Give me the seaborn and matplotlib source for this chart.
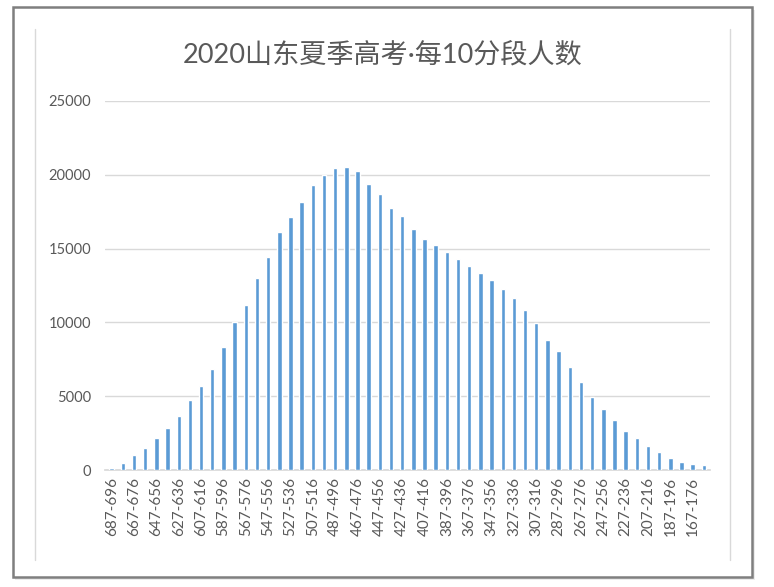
import matplotlib
matplotlib.use("Agg")
import matplotlib.pyplot as plt
import seaborn as sns
import pandas as pd
from matplotlib.patches import Rectangle
from matplotlib.lines import Line2D

# ---- data ----
lower_bounds = list(range(687, 156, -10))  # 687 ... 157
categories = [f"{lo}-{lo + 9}" for lo in lower_bounds]
counts = [110, 450, 1010, 1510, 2185, 2860, 3650, 4730, 5700, 6870,
          8330, 10000, 11170, 13040, 14410, 16150, 17140, 18180, 19280, 19980,
          20450, 20540, 20270, 19390, 18720, 17730, 17230, 16350, 15680, 15270,
          14770, 14300, 13810, 13330, 12840, 12250, 11670, 10860, 9930, 8830,
          8060, 6960, 5990, 4930, 4140, 3360, 2660, 2185, 1600, 1220,
          810, 540, 430, 340]
y_ticks = [0, 5000, 10000, 15000, 20000, 25000]
title = "2020山东夏季高考·每10分段人数"

df = pd.DataFrame({"range": categories, "count": counts})

sns.set_theme(style="white")
plt.rcParams["font.family"] = ["Lato", "Noto Sans CJK SC", "DejaVu Sans"]

W, H = 774, 587
fig = plt.figure(figsize=(W / 100, H / 100), dpi=100, facecolor="white")

def px(x0, y0, x1, y1):
    return [x0 / W, 1 - y1 / H, (x1 - x0) / W, (y1 - y0) / H]

# frame with a soft shadow
fig.patches.append(Rectangle((15 / W, 1 - 580 / H), (755 - 15) / W, (580 - 10) / H,
                             transform=fig.transFigure, facecolor="#ececec",
                             edgecolor="none", zorder=-11))
fig.patches.append(Rectangle((13 / W, 1 - 577 / H), (752 - 13) / W, (577 - 7) / H,
                             transform=fig.transFigure, facecolor="white",
                             edgecolor="#7f7f7f", linewidth=1.8, zorder=-10))
for xx in (35, 730):
    fig.lines.append(Line2D([xx / W, xx / W], [1 - 29 / H, 1 - 560 / H],
                            transform=fig.transFigure, color="#d9d9d9",
                            linewidth=1, zorder=-5))

ax = fig.add_axes(px(105, 101, 710, 470))
ax.set_facecolor("none")
sns.barplot(data=df, x="range", y="count", color="#5B9BD5", width=0.4,
            saturation=1, ax=ax, zorder=3)

ax.set_ylim(0, 25000)
ax.set_yticks(y_ticks)
ax.set_yticklabels([str(v) for v in y_ticks], fontsize=10.5, color="#595959")
ax.set_xlim(-0.6, len(categories) - 0.45)
ax.set_xticks(range(0, len(categories), 2))
ax.set_xticklabels(categories[::2], rotation=90, fontsize=11, color="#595959")
ax.tick_params(axis="both", length=0, pad=10)
ax.tick_params(axis="x", pad=5)
ax.grid(axis="y", color="#d9d9d9", linewidth=1, zorder=0)
ax.set_axisbelow(True)
for s in ("top", "right", "left"):
    ax.spines[s].set_visible(False)
ax.spines["bottom"].set_color("#d9d9d9")
ax.set_xlabel("")
ax.set_ylabel("")

fig.text(383 / W, 1 - 55 / H, title, ha="center", va="center",
         fontsize=19.5, color="#595959")

fig.savefig("out.png", dpi=100, facecolor="white")
